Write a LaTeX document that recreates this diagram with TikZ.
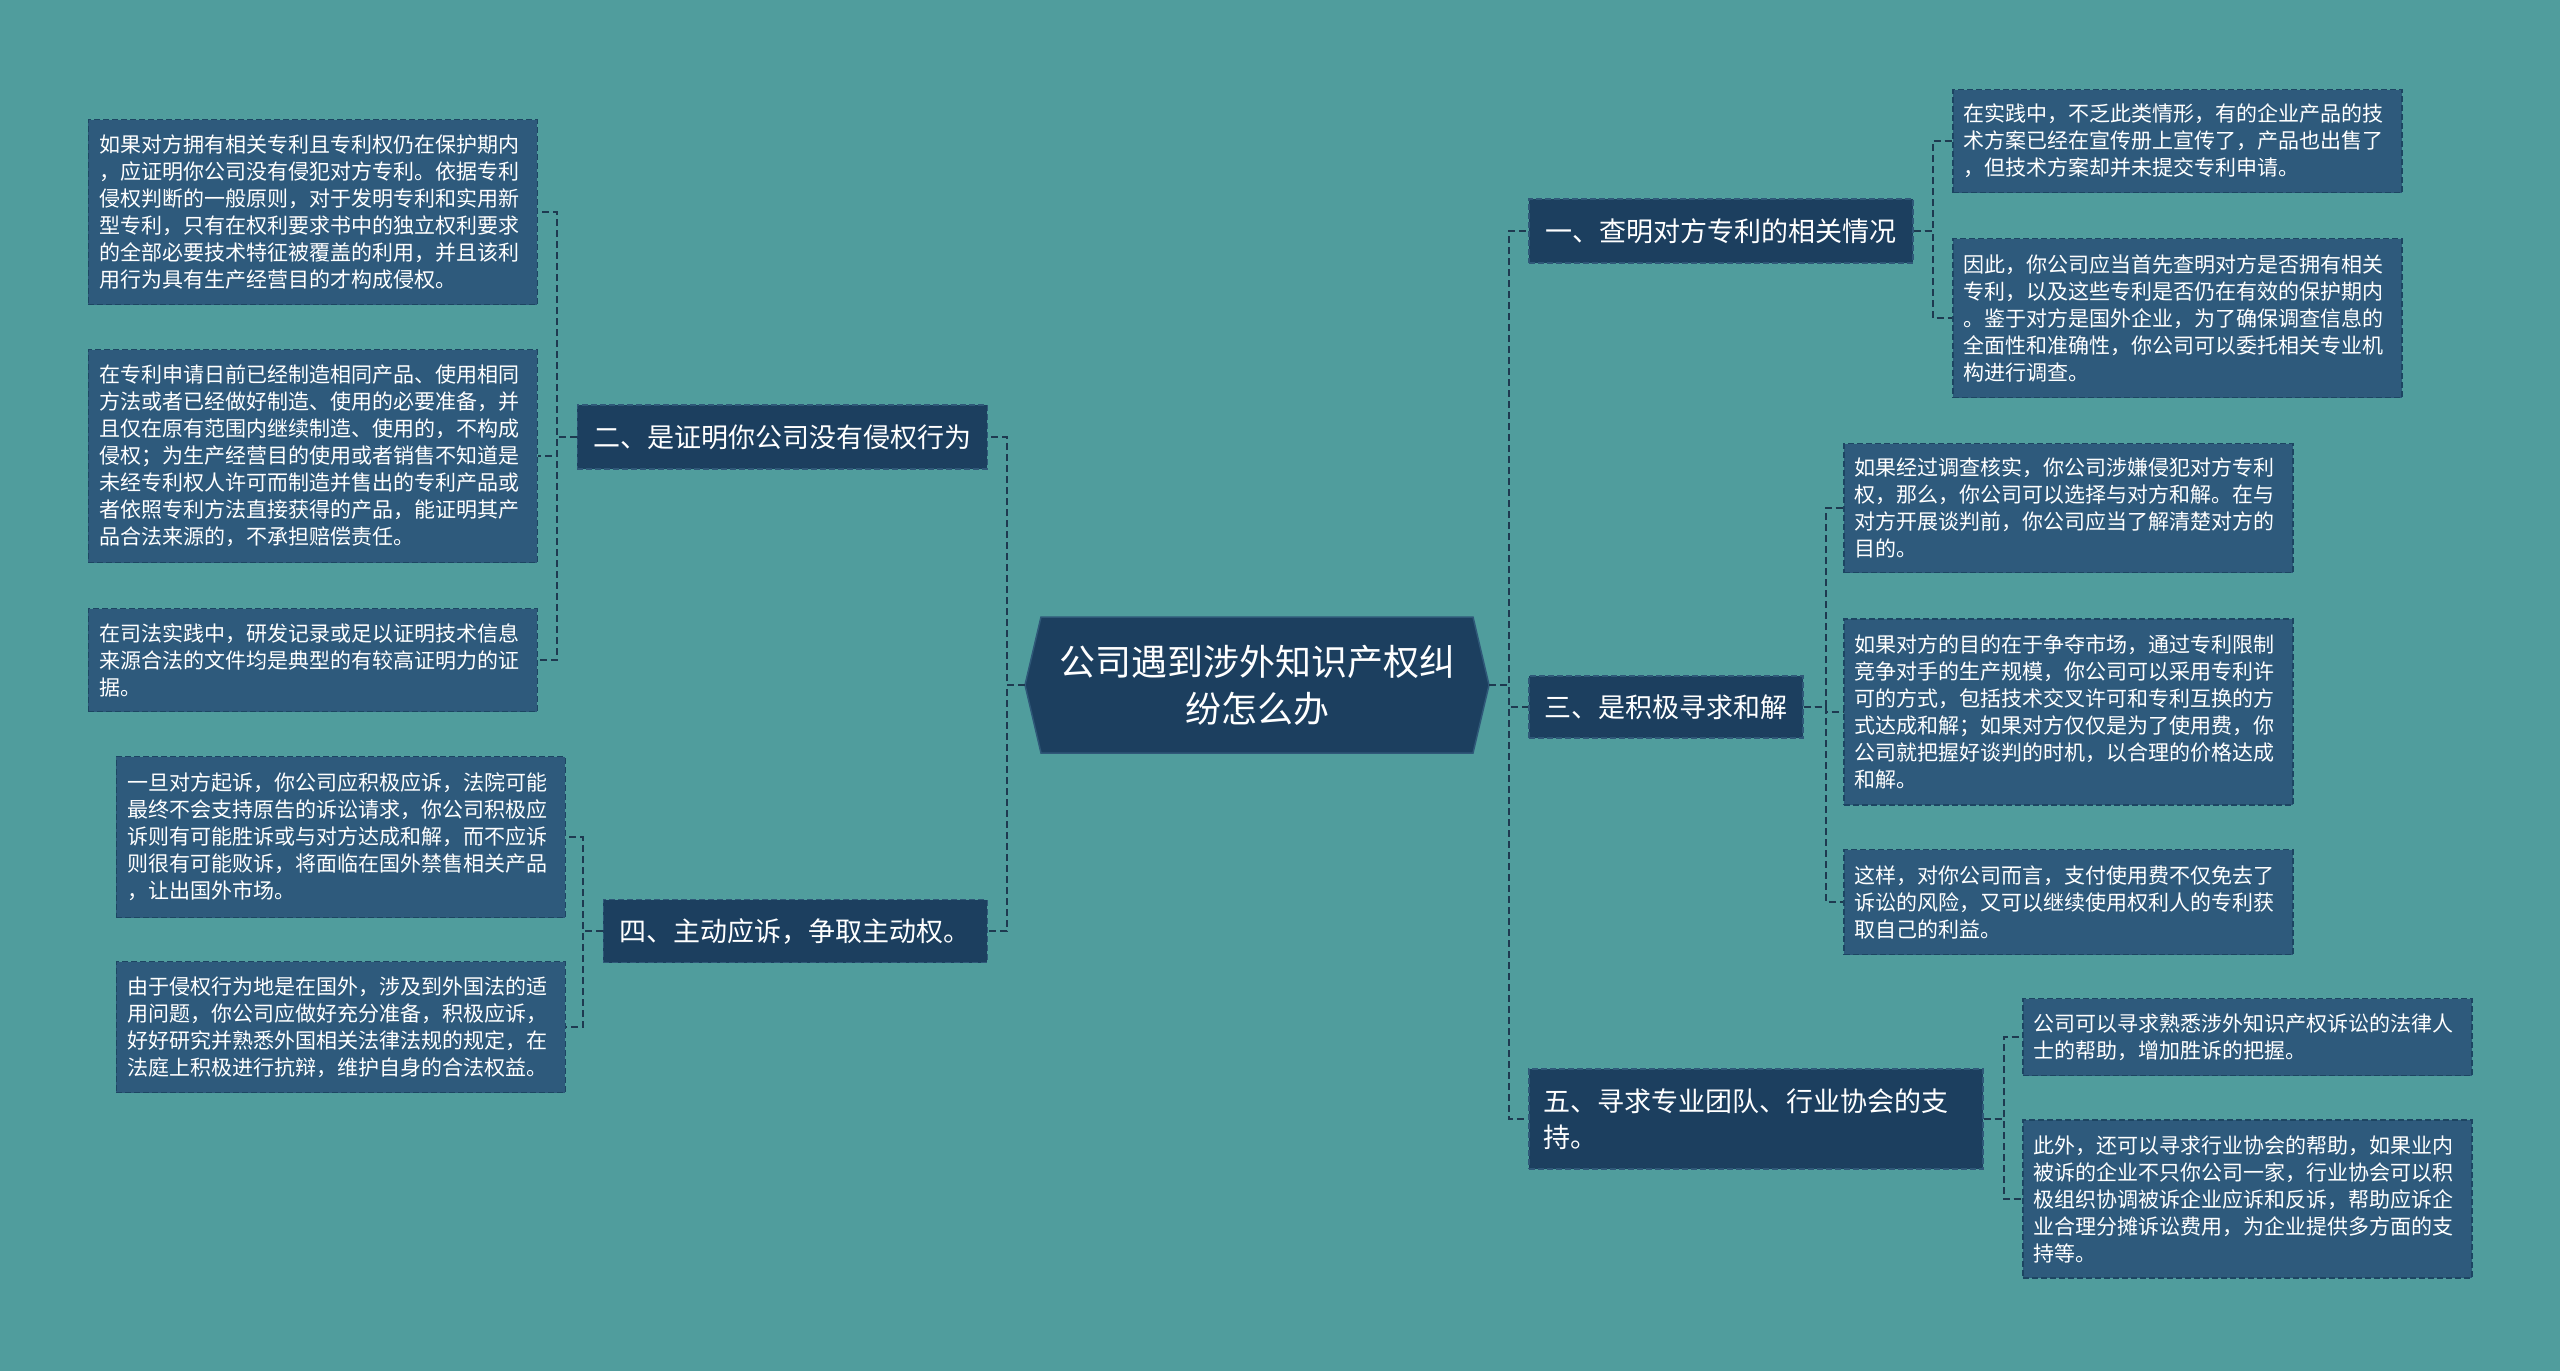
\documentclass[tikz,border=0pt]{standalone}
\usepackage{fontspec}
\setmainfont{Noto Sans CJK SC}
\usetikzlibrary{calc}
\definecolor{bgc}{HTML}{509D9D}
\definecolor{leafc}{HTML}{2E5A7C}
\definecolor{branchc}{HTML}{1C3F5F}
\definecolor{linec}{HTML}{1E3A50}
\definecolor{leafbd}{HTML}{1D4562}
\definecolor{branchbd}{HTML}{2F5878}
\tikzset{
  leafbox/.style={fill=leafc, draw=leafbd, dash pattern=on 6pt off 3pt, line width=1.5pt,
    text=white, text width=427pt, inner xsep=11pt, inner ysep=0pt, align=left,
    font=\fontsize{21}{27}\selectfont, minimum height=#1},
  branchbox/.style={fill=branchc, draw=branchbd, dash pattern=on 6pt off 3pt, line width=1.5pt,
    text=white, inner xsep=15pt, inner ysep=0pt, align=left,
    font=\fontsize{27}{36}\selectfont, minimum height=#1},
  conn/.style={draw=linec, line width=2pt, dash pattern=on 7pt off 4pt},
}
\begin{document}
\begin{tikzpicture}[x=1pt, y=-1pt]
\fill[bgc] (0,0) rectangle (2560,1371);
\useasboundingbox (0,0) rectangle (2560,1371);

% center hexagon
\filldraw[fill=branchc, draw=branchbd, line width=1.5pt]
  (1041,617) -- (1473,617) -- (1489,685) -- (1473,753) -- (1041,753) -- (1025,685) -- cycle;
\node[minimum width=464pt, minimum height=136pt, inner sep=0pt, text=white, align=center,
  font=\fontsize{36}{47}\selectfont] (ctr) at (1257,685) {公司遇到涉外知识产权纠\\纷怎么办};

% branches right
\node[branchbox=64, minimum width=384pt, anchor=west] (b1) at (1528,231) {一、查明对方专利的相关情况};
\node[branchbox=62, minimum width=274pt, anchor=west] (b3) at (1528,707) {三、是积极寻求和解};
\node[branchbox=100, text width=424pt, anchor=west] (b5) at (1528,1119) {五、寻求专业团队、行业协会的支\\持。};
% branches left
\node[branchbox=64, minimum width=410pt, anchor=east] (b2) at (988,437) {二、是证明你公司没有侵权行为};
\node[branchbox=63, minimum width=384pt, anchor=east] (b4) at (988,931) {四、主动应诉，争取主动权。};

% leaves left
\node[leafbox=185, anchor=east] (l1) at (538,212) {如果对方拥有相关专利且专利权仍在保护期内\\，应证明你公司没有侵犯对方专利。依据专利\\侵权判断的一般原则，对于发明专利和实用新\\型专利，只有在权利要求书中的独立权利要求\\的全部必要技术特征被覆盖的利用，并且该利\\用行为具有生产经营目的才构成侵权。};
\node[leafbox=213, anchor=east] (l2) at (538,456) {在专利申请日前已经制造相同产品、使用相同\\方法或者已经做好制造、使用的必要准备，并\\且仅在原有范围内继续制造、使用的，不构成\\侵权；为生产经营目的使用或者销售不知道是\\未经专利权人许可而制造并售出的专利产品或\\者依照专利方法直接获得的产品，能证明其产\\品合法来源的，不承担赔偿责任。};
\node[leafbox=103, anchor=east] (l3) at (538,660) {在司法实践中，研发记录或足以证明技术信息\\来源合法的文件均是典型的有较高证明力的证\\据。};
\node[leafbox=161, anchor=east] (l4) at (566,837) {一旦对方起诉，你公司应积极应诉，法院可能\\最终不会支持原告的诉讼请求，你公司积极应\\诉则有可能胜诉或与对方达成和解，而不应诉\\则很有可能败诉，将面临在国外禁售相关产品\\，让出国外市场。};
\node[leafbox=131, anchor=east] (l5) at (566,1027) {由于侵权行为地是在国外，涉及到外国法的适\\用问题，你公司应做好充分准备，积极应诉，\\好好研究并熟悉外国相关法律法规的规定，在\\法庭上积极进行抗辩，维护自身的合法权益。};

% leaves right
\node[leafbox=103, anchor=west] (r1) at (1952,141) {在实践中，不乏此类情形，有的企业产品的技\\术方案已经在宣传册上宣传了，产品也出售了\\，但技术方案却并未提交专利申请。};
\node[leafbox=159, anchor=west] (r2) at (1952,318) {因此，你公司应当首先查明对方是否拥有相关\\专利，以及这些专利是否仍在有效的保护期内\\。鉴于对方是国外企业，为了确保调查信息的\\全面性和准确性，你公司可以委托相关专业机\\构进行调查。};
\node[leafbox=129, anchor=west] (r3) at (1843,508) {如果经过调查核实，你公司涉嫌侵犯对方专利\\权，那么，你公司可以选择与对方和解。在与\\对方开展谈判前，你公司应当了解清楚对方的\\目的。};
\node[leafbox=186, anchor=west] (r4) at (1843,712) {如果对方的目的在于争夺市场，通过专利限制\\竞争对手的生产规模，你公司可以采用专利许\\可的方式，包括技术交叉许可和专利互换的方\\式达成和解；如果对方仅仅是为了使用费，你\\公司就把握好谈判的时机，以合理的价格达成\\和解。};
\node[leafbox=105, anchor=west] (r5) at (1843,902) {这样，对你公司而言，支付使用费不仅免去了\\诉讼的风险，又可以继续使用权利人的专利获\\取自己的利益。};
\node[leafbox=77, anchor=west] (r6) at (2022,1037) {公司可以寻求熟悉涉外知识产权诉讼的法律人\\士的帮助，增加胜诉的把握。};
\node[leafbox=158, anchor=west] (r7) at (2022,1199) {此外，还可以寻求行业协会的帮助，如果业内\\被诉的企业不只你公司一家，行业协会可以积\\极组织协调被诉企业应诉和反诉，帮助应诉企\\业合理分摊诉讼费用，为企业提供多方面的支\\持等。};

% connectors center -> branches
\foreach \b in {b1,b3,b5} \draw[conn] (ctr.east) -- ++(20,0) |- (\b.west);
\foreach \b in {b2,b4} \draw[conn] (ctr.west) -- ++(-18,0) |- (\b.east);
% branches -> leaves
\foreach \l in {r1,r2} \draw[conn] (b1.east) -- ++(19,0) |- (\l.west);
\foreach \l in {r3,r4,r5} \draw[conn] (b3.east) -- ++(22,0) |- (\l.west);
\foreach \l in {r6,r7} \draw[conn] (b5.east) -- ++(20,0) |- (\l.west);
\foreach \l in {l1,l2,l3} \draw[conn] (b2.west) -- ++(-20,0) |- (\l.east);
\foreach \l in {l4,l5} \draw[conn] (b4.west) -- ++(-20,0) |- (\l.east);
\end{tikzpicture}
\end{document}
